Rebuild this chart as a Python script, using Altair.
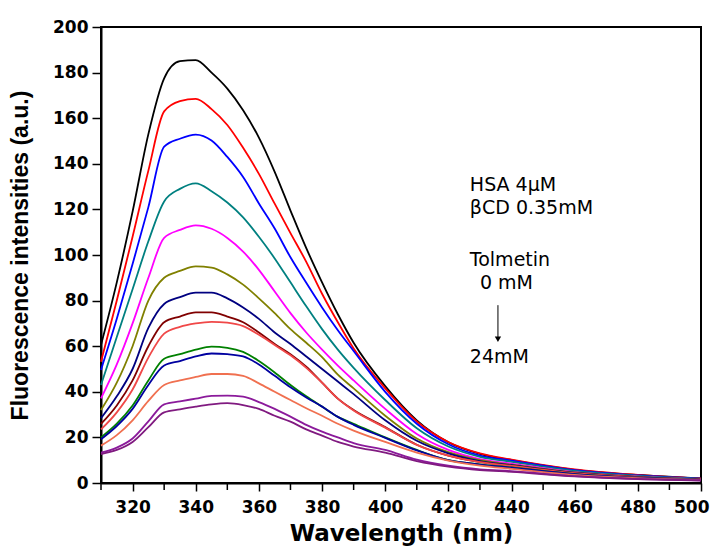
import altair as alt
import pandas as pd

wavelengths = [310, 315, 320, 325, 330, 335, 340, 345, 350, 355, 360, 365, 370,
               375, 380, 385, 390, 400, 410, 420, 430, 440, 460, 480, 500]

series_names = ["s01", "s02", "s03", "s04", "s05", "s06", "s07",
                "s08", "s09", "s10", "s11", "s12", "s13", "s14"]
series_colors = ["#000000", "#FF0000", "#0000FF", "#008080", "#FF00FF", "#808000", "#000080",
                 "#800000", "#F04848", "#008000", "#0000A0", "#F07050", "#8B1A9B", "#801A80"]

s01 = [60.5, 88, 119, 153, 177.5, 185, 185.5, 180, 173, 163.5, 151.5, 136.5, 119.5, 103, 88, 74, 61.5, 42.5, 27.5, 17.9, 12.8, 10, 5.8, 3.5, 2]
s02 = [53.2, 80, 108, 137, 163, 167.5, 168.5, 164, 157, 147, 135.6, 122.5, 109.6, 97, 83, 70.5, 59, 41.5, 27, 18, 13, 10.3, 6, 3.6, 2]
s03 = [49.6, 72, 96, 121, 147.5, 151, 152.8, 150.2, 143, 134.2, 122.6, 111.6, 99, 87.8, 77, 67, 57.9, 40, 26, 17, 12, 9.8, 5.6, 3.3, 1.9]
s04 = [43, 64, 85, 106, 123.5, 129, 131.4, 128, 123, 116.5, 108, 98.5, 88, 77.5, 67.5, 58.5, 50.5, 36.4, 24, 16, 11.5, 9.3, 5.3, 3.1, 1.8]
s05 = [37.1, 52, 70, 90, 107.5, 111, 113, 111.5, 107.5, 101.5, 93.5, 84, 74.5, 66, 58.5, 51.5, 45, 32.5, 21.5, 14.5, 10.5, 8.5, 4.8, 2.8, 1.6]
s06 = [32, 44, 60, 80, 90, 93, 95, 94.5, 91.5, 87, 81, 74.5, 67.5, 61.5, 55.2, 47.5, 41.5, 29.5, 19.5, 13.5, 10, 8, 4.6, 2.7, 1.6]
s07 = [28.4, 38, 50, 68, 78.5, 81.5, 83.5, 83.5, 81, 77, 72, 66, 61, 55.5, 50, 44.5, 39, 27.5, 18.5, 13, 9.6, 7.8, 4.5, 2.6, 1.5]
s08 = [25.9, 34, 45, 60, 70.5, 73, 74.8, 74.8, 73, 70.5, 66, 61, 56.5, 51, 44, 37, 32, 24.5, 16.8, 12, 9.2, 7.5, 4.3, 2.5, 1.5]
s09 = [23.5, 31, 41, 55, 65.5, 68.5, 70, 70.7, 70.3, 68.8, 65, 60.5, 56, 50.5, 44, 37, 31.8, 24.3, 16.7, 12, 9.2, 7.5, 4.3, 2.5, 1.5]
s10 = [20, 26, 34, 45, 54.5, 56.5, 58.5, 59.8, 59.3, 57.5, 53.5, 48.5, 43, 38, 33.5, 29, 26, 20, 14.5, 10, 8.2, 6.8, 3.9, 2.3, 1.4]
s11 = [19.2, 25, 32.5, 43, 51.5, 53.5, 55.5, 56.8, 56.5, 55.5, 52, 47, 42, 37.5, 33.5, 29, 25.5, 19.8, 14.3, 10, 8.1, 6.7, 3.9, 2.3, 1.4]
s12 = [16.4, 21, 27.5, 36, 43, 45, 46.5, 47.8, 47.8, 47, 43.7, 40, 36.4, 32.8, 29.5, 26, 23, 18, 13.3, 9.8, 7.6, 6.2, 3.6, 2.1, 1.3]
s13 = [13.3, 15.5, 19.5, 27, 34.5, 35.8, 37, 38.2, 38.3, 37.9, 35.5, 32.5, 29.1, 25.5, 22.5, 20, 17.5, 14.5, 10.2, 7.6, 6, 5.2, 3, 1.8, 1.2]
s14 = [12.7, 14.5, 18, 24.5, 31, 32.3, 33.5, 34.5, 35, 34.2, 32.5, 29.5, 26.9, 23.5, 20.8, 18, 16, 13.3, 9.6, 7.2, 5.7, 4.9, 2.9, 1.7, 1.1]

series_values = [s01, s02, s03, s04, s05, s06, s07, s08, s09, s10, s11, s12, s13, s14]

x_major = [320, 340, 360, 380, 400, 420, 440, 460, 480, 500]
x_minor = [310, 330, 350, 370, 390, 410, 430, 450, 470, 490]
y_ticks = [0, 10, 20, 30, 40, 50, 60, 70, 80, 90, 100, 110, 120, 130, 140, 150, 160, 170, 180, 190, 200]

note_labels = ["HSA 4\u03bcM", "\u03b2CD 0.35mM", "Tolmetin", "0 mM", "24mM"]
note_x = [426.8, 426.8, 426.8, 430.0, 426.8]
note_y = [130.7, 120.6, 97.8, 87.7, 55.3]

arrow_x = [435.7]
arrow_y_top = [78.0]
arrow_y_tip = [63.0]

rows = []
for name, vals in zip(series_names, series_values):
    for i, (w, v) in enumerate(zip(wavelengths, vals)):
        rows.append({"series": name, "wl": w, "val": v, "order": i})
df = pd.DataFrame(rows)

notes = pd.DataFrame({"note": note_labels, "nx": note_x, "ny": note_y})
arrow = pd.DataFrame({"ax": arrow_x, "ay": arrow_y_top, "ay2": arrow_y_tip})
minor = pd.DataFrame({"mx": x_minor, "my": [0] * len(x_minor)})

xscale = alt.Scale(domain=[310, 500], nice=False, zero=False)
yscale = alt.Scale(domain=[0, 200], nice=False, zero=False)

x_axis = alt.Axis(
    values=x_major,
    format="d",
    tickSize=8,
    title="Wavelength (nm)",
    grid=False, labelOverlap=False, labelFlush=True, labelFlushOffset=8,
    labelFont="DejaVu Sans", labelFontWeight="bold", labelFontSize=17, labelColor="black",
    labelPadding=8,
    titleFont="DejaVu Sans", titleFontWeight="bold", titleFontSize=23, titleColor="black",
    titlePadding=7,
    domainColor="black", domainWidth=2, tickColor="black", tickWidth=1.5,
)
y_axis = alt.Axis(
    values=y_ticks,
    labelExpr="datum.value % 20 === 0 ? format(datum.value, 'd') : ''",
    tickSize={"condition": {"test": "datum.value % 20 === 0", "value": 9}, "value": 5},
    title="Fluorescence intensities (a.u.)",
    grid=False, labelOverlap=False, labelFlush=False,
    labelFont="DejaVu Sans", labelFontWeight="bold", labelFontSize=17, labelColor="black",
    labelPadding=4,
    titleFont="Liberation Sans", titleFontWeight="bold", titleFontSize=23, titleColor="black",
    titlePadding=20,
    domainColor="black", domainWidth=2, tickColor="black", tickWidth=1.5,
)

lines = alt.Chart(df).mark_line(strokeWidth=1.8, interpolate="monotone").encode(
    x=alt.X("wl:Q", scale=xscale, axis=x_axis),
    y=alt.Y("val:Q", scale=yscale, axis=y_axis),
    color=alt.Color("series:N", scale=alt.Scale(domain=series_names, range=series_colors), legend=None),
    order=alt.Order("order:Q"),
)

minor_ticks = alt.Chart(minor).mark_tick(
    orient="vertical", size=7, thickness=1.5, color="black", yOffset=3.5, clip=False, opacity=1
).encode(
    x=alt.X("mx:Q", scale=xscale),
    y=alt.Y("my:Q", scale=yscale),
)

text = alt.Chart(notes).mark_text(
    align="left", baseline="middle", font="DejaVu Sans", fontSize=19, color="black"
).encode(
    x=alt.X("nx:Q", scale=xscale),
    y=alt.Y("ny:Q", scale=yscale),
    text="note:N",
)

arrow_line = alt.Chart(arrow).mark_rule(color="black", strokeWidth=1).encode(
    x=alt.X("ax:Q", scale=xscale),
    y=alt.Y("ay:Q", scale=yscale),
    y2="ay2:Q",
)
arrow_head = alt.Chart(arrow).mark_point(
    shape="triangle-down", filled=True, color="black", size=40, opacity=1
).encode(
    x=alt.X("ax:Q", scale=xscale),
    y=alt.Y("ay2:Q", scale=yscale),
)

chart = alt.layer(lines, minor_ticks, text, arrow_line, arrow_head).properties(
    width=600, height=456,
    padding={"left": 93, "top": 19, "right": 9, "bottom": 66},
    autosize=alt.AutoSizeParams(type="none"),
).configure_view(stroke="black", strokeWidth=2)

chart.save("out.html", embed_options={"renderer": "svg", "actions": False})
